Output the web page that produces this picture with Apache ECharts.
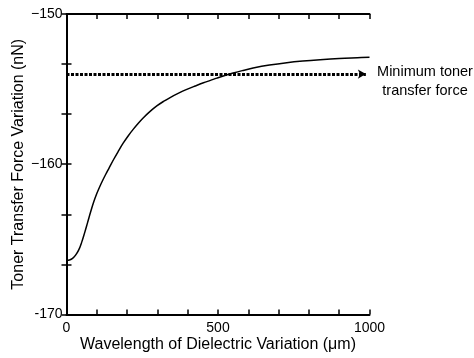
<!DOCTYPE html>
<html><head><meta charset="utf-8">
<script src="https://cdn.jsdelivr.net/npm/echarts@6/dist/echarts.min.js"></script>
<style>html,body{margin:0;padding:0;background:#fff}#c{width:474px;height:358px}</style>
</head><body><div id="c"></div>
<script>
var wavelength = [0, 10, 20, 30, 40, 50, 60, 70, 80, 90, 100, 110, 120, 130, 140, 155, 170, 187, 204, 220, 237, 253, 275, 298, 320, 342, 370, 397, 425, 452, 475, 496, 520, 550, 580, 616, 670, 727, 780, 837, 900, 960, 1000];
var forceVariation = [-166.40, -166.37, -166.27, -166.05, -165.72, -165.20, -164.55, -163.85, -163.15, -162.50, -161.95, -161.48, -161.05, -160.65, -160.27, -159.70, -159.17, -158.60, -158.10, -157.68, -157.27, -156.92, -156.50, -156.12, -155.82, -155.56, -155.27, -155.02, -154.79, -154.58, -154.42, -154.27, -154.11, -153.93, -153.77, -153.60, -153.40, -153.24, -153.13, -153.04, -152.96, -152.91, -152.88];
var minForce = -154;
var thresholdX = [0, 988];
var yTickLabels = {'-150': '\u2212150', '-160': '\u2212160', '-170': '-170'};
var xTickLabels = {'0': '0', '500': '500', '1000': '1000'};
var annotation = ['Minimum toner', 'transfer force'];

var chart = echarts.init(document.getElementById('c'), null, {renderer: 'canvas'});
var font = 'Liberation Sans, Arial, sans-serif';
var axisLine = {show: true, lineStyle: {color: '#000', width: 2}};
var tick = {show: true, inside: true, length: 5, lineStyle: {color: '#000', width: 1.5}};
var yInterval = 10 / 3;
function yLabel(v) {
  var r = Math.round(v);
  if (Math.abs(v - r) > 1e-6 || r % 10 !== 0) return '';
  return yTickLabels[String(r)] || '';
}
var option = {
  animation: false,
  grid: {left: 66.5, right: 104.5, top: 14, bottom: 43.5, containLabel: false, outerBoundsMode: 'none'},
  xAxis: [{
    type: 'value', min: 0, max: 1000, interval: 100, position: 'bottom',
    axisLine: axisLine, axisTick: tick, splitLine: {show: false},
    axisLabel: {color: '#000', fontSize: 14, fontFamily: font, margin: 7,
      formatter: function (v) { return xTickLabels[String(v)] || ''; }},
    name: 'Wavelength of Dielectric Variation (\u03bcm)', nameLocation: 'middle', nameGap: 22,
    nameMoveOverlap: false,
    nameTextStyle: {color: '#000', fontSize: 16, fontFamily: font}
  }, {
    type: 'value', min: 0, max: 1000, interval: 100, position: 'top',
    axisLine: axisLine, axisTick: tick, axisLabel: {show: false}, splitLine: {show: false}
  }],
  yAxis: [{
    type: 'value', min: -170, max: -150, interval: yInterval, position: 'left',
    axisLine: axisLine, axisTick: tick, splitLine: {show: false},
    axisLabel: {color: '#000', fontSize: 14, fontFamily: font, margin: 4, formatter: yLabel},
    name: 'Toner Transfer Force Variation (nN)', nameLocation: 'middle', nameGap: 40,
    nameMoveOverlap: false,
    nameTextStyle: {color: '#000', fontSize: 16, fontFamily: font}
  }, {
    type: 'value', min: -170, max: -150, interval: yInterval, position: 'right',
    axisLine: axisLine, axisTick: tick, axisLabel: {show: false}, splitLine: {show: false}
  }],
  series: [{
    type: 'line', smooth: 0.4, showSymbol: false,
    data: wavelength.map(function (x, i) { return [x, forceVariation[i]]; }),
    lineStyle: {color: '#000', width: 1.5},
    markLine: {
      silent: true, animation: false,
      symbol: ['none', 'arrow'], symbolSize: [7, 8],
      label: {show: false},
      lineStyle: {color: '#000', width: 3, type: [3, 1.5], cap: 'butt'},
      data: [[{coord: [thresholdX[0], minForce]}, {coord: [thresholdX[1], minForce]}]]
    }
  }],
  graphic: [{
    type: 'text', x: 425, y: 62,
    style: {text: annotation.join('\n'), font: '14.5px ' + font, fill: '#000', textAlign: 'center', textVerticalAlign: 'top', lineHeight: 19.5}
  }]
};
chart.setOption(option);
</script></body></html>
